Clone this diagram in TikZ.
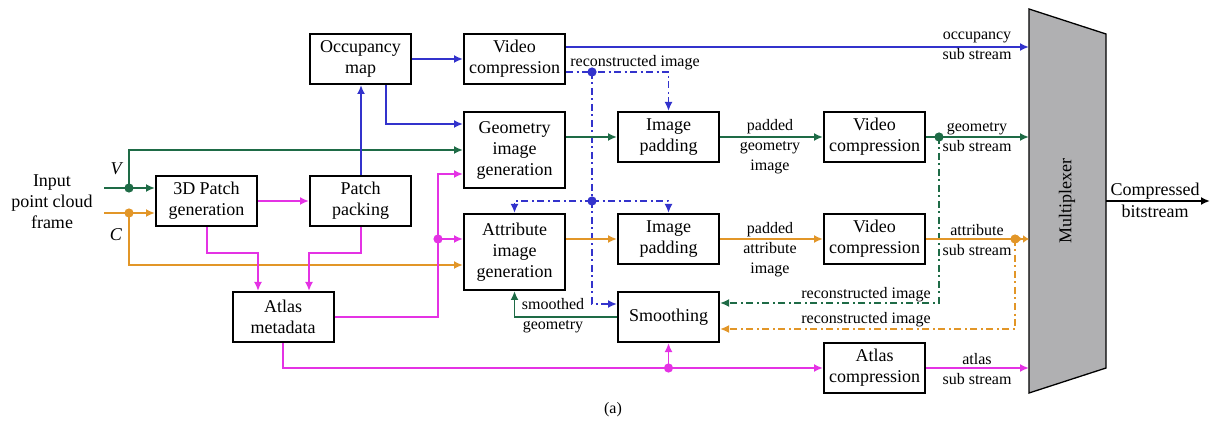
\documentclass[tikz,border=0pt]{standalone}
\usepackage{fontspec}
\setmainfont{Liberation Serif}
\usetikzlibrary{arrows.meta,calc}

\definecolor{cblue}{RGB}{51,51,204}
\definecolor{cgreen}{RGB}{30,107,70}
\definecolor{corange}{RGB}{226,150,40}
\definecolor{cmag}{RGB}{228,50,228}
\definecolor{cmux}{RGB}{176,176,178}

\tikzset{
  blk/.style={draw=black, line width=2pt, minimum width=101pt, minimum height=50pt,
    inner sep=0pt, align=center, font=\fontsize{18}{21}\selectfont},
  tall/.style={blk, minimum height=76pt},
  lbl/.style={align=center, inner sep=0pt, font=\fontsize{16}{20}\selectfont},
  tip/.style={-{Latex[length=9pt,width=8pt]}},
  conn/.style={line width=1.8pt},
  bl/.style={conn, draw=cblue},
  gl/.style={conn, draw=cgreen},
  ol/.style={conn, draw=corange},
  ml/.style={conn, draw=cmag},
  dashdot/.style={dash pattern=on 7pt off 3.5pt on 2pt off 3.5pt},
  jdot/.style={radius=4.6pt},
}

\begin{document}
\begin{tikzpicture}[x=1pt, y=-1pt]
\useasboundingbox (0,0) rectangle (1214,427);

% processing blocks
\node[blk] (occ) at (360.5,59) {Occupancy\\map};
\node[blk] (vc1) at (514.5,59) {Video\\compression};
\node[tall] (geo) at (514.5,150) {Geometry\\image\\generation};
\node[blk] (pad1) at (668.5,137) {Image\\padding};
\node[blk] (vc2) at (874.5,137) {Video\\compression};
\node[blk] (p3d) at (206.5,201) {3D Patch\\generation};
\node[blk] (pack) at (360.5,201) {Patch\\packing};
\node[tall] (attr) at (514.5,252) {Attribute\\image\\generation};
\node[blk] (pad2) at (668.5,239) {Image\\padding};
\node[blk] (vc3) at (874.5,239) {Video\\compression};
\node[blk] (atlas) at (283,317) {Atlas\\metadata};
\node[blk] (smooth) at (668.5,317) {Smoothing};
\node[blk] (atlc) at (874.5,368) {Atlas\\compression};

% multiplexer
\draw[fill=cmux, line width=1.3pt] (1029,9) -- (1106,34) -- (1106,368) -- (1029,393) -- cycle;
\node[rotate=90, font=\fontsize{18}{21}\selectfont] (muxlbl) at (1067,201) {Multiplexer};
\coordinate (mux) at (1029,0);
\coordinate (muxout) at (1106,201);
\coordinate (outend) at (1210,201);
\draw[line width=1.8pt, tip] (muxout) -- (outend);
\node[lbl, font=\fontsize{18}{22}\selectfont] (outlbl) at (1155,200) {Compressed\\bitstream};

% input
\node[align=center, font=\fontsize{18}{21}\selectfont] (in) at (52,202) {Input\\point cloud\\frame};
\coordinate (vin) at (104,188);
\coordinate (cin) at (104,213);
\coordinate (vdot) at (129,188);
\coordinate (cdot) at (129,213);
\node[font=\fontsize{18}{21}\selectfont\itshape] (vlbl) at (116,169) {V};
\node[font=\fontsize{18}{21}\selectfont\itshape] (clbl) at (116,235) {C};

% geometry (V) and attribute (C) inputs
\draw[gl, tip] (vin) -- (p3d.west |- vin);
\draw[gl, tip] (vdot) |- (geo.west);
\fill[cgreen] (vdot) circle[jdot];
\draw[ol, tip] (cin) -- (p3d.west |- cin);
\draw[ol, tip] (cdot) |- ($(attr.west)+(0,13)$);
\fill[corange] (cdot) circle[jdot];

% patch generation and packing
\draw[ml, tip] (p3d.east) -- (pack.west);
\draw[ml, tip] ($(p3d.south)+(0.5,0)$) -- ++(0,26) -| ($(atlas.north)+(-25,0)$);
\draw[ml, tip] ($(pack.south)+(0.5,0)$) -- ++(0,26) -| ($(atlas.north)+(26,0)$);
\draw[bl, tip] ($(pack.north)+(0.5,0)$) -- ($(occ.south)+(0.5,0)$);

% occupancy map
\draw[bl, tip] (occ.east) -- (vc1.west);
\draw[bl, tip] ($(occ.south)+(25.5,0)$) |- ($(geo.west)+(0,-26)$);
\coordinate (occout) at ($(vc1.east)+(0,-12)$);
\draw[bl, tip] (occout) -- (occout -| mux);
\node[lbl] (occss) at (977,46) {occupancy\\sub stream};

% reconstructed occupancy image
\coordinate (bdot1) at (592,72);
\coordinate (bdot2) at (592,201);
\draw[bl, dashdot, tip] ($(vc1.east)+(0,13)$) -| (pad1.north);
\node[lbl, anchor=south] (rec1) at (635,70) {reconstructed image};
\draw[bl, dashdot] (bdot1) -- (bdot2);
\draw[bl, dashdot, tip] (bdot2) -| (attr.north);
\draw[bl, dashdot, tip] (bdot2) -| (pad2.north);
\draw[bl, dashdot, tip] (bdot2) |- ($(smooth.west)+(0,-13)$);
\fill[cblue] (bdot1) circle[jdot];
\fill[cblue] (bdot2) circle[jdot];

% geometry path
\draw[gl, tip] (pad1.west -| geo.east) -- (pad1.west);
\draw[gl, tip] (pad1.east) -- (vc2.west);
\node[lbl] (padg) at (770,147) {padded\\geometry\\image};
\coordinate (gdot) at (939,137);
\draw[gl, tip] (vc2.east) -- (vc2.east -| mux);
\node[lbl] (geoss) at (977,137) {geometry\\sub stream};
\draw[gl, dashdot, tip] (gdot) |- ($(smooth.east)+(0,-14)$);
\fill[cgreen] (gdot) circle[jdot];
\node[lbl, anchor=south] (rec2) at (866,302) {reconstructed image};

% attribute path
\draw[ol, tip] (pad2.west -| attr.east) -- (pad2.west);
\draw[ol, tip] (pad2.east) -- (vc3.west);
\node[lbl] (pada) at (770,250) {padded\\attribute\\image};
\coordinate (odot) at (1015,239);
\draw[ol, -{Latex[length=6pt,width=8pt]Latex[length=6pt,width=8pt]}] (vc3.east) -- (vc3.east -| mux);
\node[lbl] (attss) at (977,240) {attribute\\sub stream};
\draw[ol, dashdot, tip] (odot) |- ($(smooth.east)+(0,12)$);
\fill[corange] (odot) circle[jdot];
\node[lbl, anchor=south] (rec3) at (866,327) {reconstructed image};

% smoothing feedback
\draw[gl, tip] (smooth.west) -| (attr.south);
\node[lbl] (smg) at (553,316) {smoothed\\geometry};

% atlas metadata
\coordinate (mcorner) at (438,174);
\coordinate (mdot) at (438,239);
\draw[ml, tip] (atlas.east) -| (mcorner) -- (geo.west |- mcorner);
\draw[ml, tip] (mdot) -- (attr.west |- mdot);
\fill[cmag] (mdot) circle[jdot];
\coordinate (mdot2) at (668.5,368);
\draw[ml, tip] (atlas.south) |- (atlc.west);
\draw[ml, tip] (mdot2) -- (smooth.south);
\fill[cmag] (mdot2) circle[jdot];
\draw[ml, tip] (atlc.east) -- (atlc.east -| mux);
\node[lbl] (atlss) at (977,369) {atlas\\sub stream};

\node[font=\fontsize{16}{19}\selectfont] (cap) at (613,410) {(a)};
\end{tikzpicture}
\end{document}
